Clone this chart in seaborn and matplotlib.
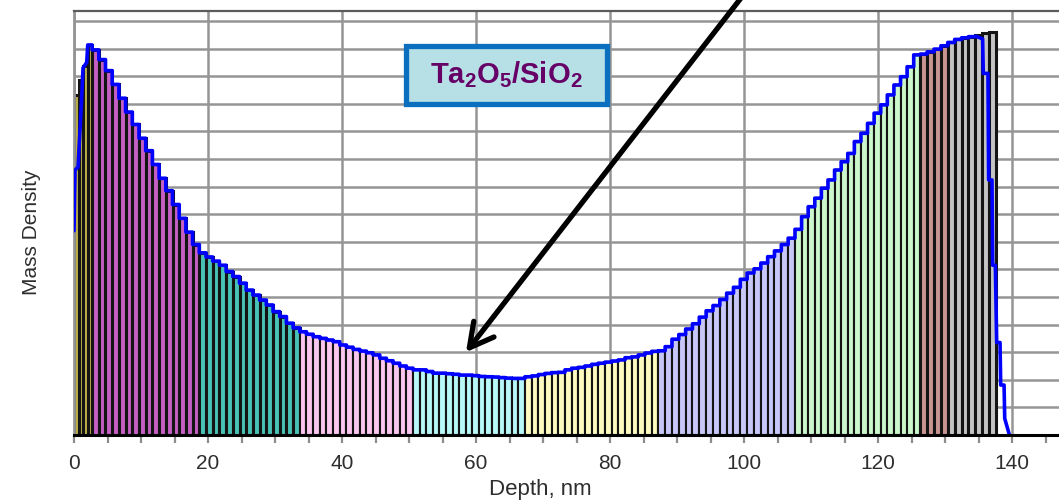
import numpy as np
import pandas as pd
import matplotlib
matplotlib.use("Agg")
import matplotlib.pyplot as plt
from matplotlib.patches import Rectangle
from matplotlib.ticker import MultipleLocator, NullFormatter, FixedLocator
import seaborn as sns

# ---- layer data: depth span of each coloured block and the mass density of its sublayers ----
block_names = ["olive", "magenta", "teal", "pink", "cyan", "yellow", "lavender", "green", "brown", "gray"]
block_colors = ["#bdb248", "#c65fc4", "#48c2b6", "#fbc6f0", "#b8f8f8",
                "#fdfbc0", "#c8c8f8", "#ccf7cc", "#c99591", "#c4c4c4"]
block_start = [0.0, 2.7, 18.7, 33.7, 50.6, 67.3, 87.2, 107.6, 126.3, 130.4]
block_end = [2.7, 18.7, 33.7, 50.6, 67.3, 87.2, 107.6, 126.3, 130.4, 137.6]

olive = [12.3, 12.85, 13.35, 14.13]
magenta = [13.95, 13.6, 13.2, 12.7, 12.2, 11.7, 11.25, 10.75, 10.3, 9.8, 9.3, 8.85, 8.35, 7.85, 7.35, 6.9]
teal = [6.6, 6.45, 6.3, 6.15, 5.92, 5.74, 5.5, 5.25, 5.07, 4.89, 4.71, 4.47, 4.29, 4.05, 3.88]
pink = [3.74, 3.65, 3.56, 3.50, 3.44, 3.38, 3.26, 3.18, 3.10, 3.04, 2.98, 2.90, 2.78, 2.69, 2.60, 2.50, 2.42]
cyan = [2.36, 2.36, 2.30, 2.24, 2.24, 2.22, 2.20, 2.17, 2.17, 2.15, 2.12, 2.11, 2.10, 2.08, 2.06, 2.05, 2.05]
yellow = [2.11, 2.14, 2.19, 2.23, 2.26, 2.27, 2.36, 2.42, 2.45, 2.50, 2.56, 2.60, 2.64, 2.68, 2.72, 2.80, 2.83, 2.90, 2.97, 3.03]
lavender = [3.05, 3.2, 3.47, 3.64, 3.84, 4.03, 4.27, 4.5, 4.69, 4.91, 5.14, 5.35, 5.64, 5.87, 6.02, 6.23, 6.46, 6.67, 6.9, 7.13]
green = [7.45, 7.91, 8.27, 8.58, 8.94, 9.24, 9.6, 9.9, 10.2, 10.63, 10.93, 11.29, 11.66, 11.96, 12.32, 12.68, 12.98, 13.34, 13.77]
brown = [13.8, 13.88, 13.98, 14.1]
gray = [14.22, 14.33, 14.39, 14.43, 14.5, 14.56, 14.6]
block_values = [olive, magenta, teal, pink, cyan, yellow, lavender, green, brown, gray]
dark_blocks = {"olive", "magenta", "teal", "brown", "gray"}

# target profile at the two film edges (the middle follows the sublayer tops)
front_depth = [0.0, 0.15, 0.6, 1.1, 1.35, 1.9, 2.05, 2.7]
front_density = [7.4, 9.6, 9.7, 12.0, 13.3, 13.5, 14.13, 14.13]
back_depth = [134.55, 135.6, 135.7, 136.4, 136.5, 137.0, 137.1, 137.5, 137.7, 138.2, 138.3, 138.8, 138.9, 139.6]
back_density = [14.45, 14.35, 13.1, 13.1, 9.24, 9.24, 6.15, 6.15, 3.35, 3.35, 1.81, 1.81, 0.6, 0.0]

depth_ticks = [0, 20, 40, 60, 80, 100, 120, 140]
tick_labels = ["0", "20", "40", "60", "80", "100", "120", "140"]

# ---- styling ----
sns.set_theme(style="white")
plt.rcParams["font.family"] = ["Liberation Sans", "DejaVu Sans"]
plt.rcParams["mathtext.fontset"] = "custom"
plt.rcParams["mathtext.bf"] = "Liberation Sans:bold"
plt.rcParams["mathtext.rm"] = "Liberation Sans:bold"

fig = plt.figure(figsize=(10.59, 5.0), dpi=100)
ax = fig.add_axes([74 / 1059, 65 / 500, 985 / 1059, 424 / 500])

edge_col = "#141414"
bx, by = list(front_depth), list(front_density)
for name, col, s, e, vals in zip(block_names, block_colors, block_start, block_end, block_values):
    edges = np.linspace(s, e, len(vals) + 1)
    centers = 0.5 * (edges[:-1] + edges[1:])
    layer = pd.DataFrame({"depth": centers, "density": vals})
    sns.barplot(data=layer, x="depth", y="density", native_scale=True, width=1.0,
                color=col, saturation=1.0, errorbar=None, edgecolor=edge_col,
                linewidth=2.2 if name in dark_blocks else 1.5, ax=ax, zorder=2)
    if name == "olive":
        continue
    for l, r, v in zip(edges[:-1], edges[1:], vals):
        if r <= back_depth[0] + 1e-6:
            bx += [l, r]
            by += [v, v]
bx += back_depth
by += back_density

profile = pd.DataFrame({"depth": bx, "density": by})
sns.lineplot(data=profile, x="depth", y="density", sort=False, estimator=None,
             color="#0000ff", linewidth=2.6, ax=ax, zorder=4)

ax.set_xlim(0, 147)
ax.set_ylim(0, 15.36)
ax.xaxis.set_major_locator(FixedLocator(depth_ticks))
ax.set_xticklabels(tick_labels)
ax.xaxis.set_minor_locator(MultipleLocator(5))
ax.yaxis.set_major_locator(FixedLocator(list(range(0, 16))))
ax.yaxis.set_major_formatter(NullFormatter())
ax.tick_params(axis="x", which="both", direction="out", length=6, width=1.6,
               color="#8c8c8c", labelsize=15, labelcolor="#2e2e2e", pad=8, bottom=True)
ax.tick_params(axis="y", which="both", length=0)

ax.set_axisbelow(True)
ax.grid(True, which="major", axis="both", color="#959595", linewidth=1.8)

ax.spines["right"].set_visible(False)
ax.spines["top"].set_color("#5c5c5c")
ax.spines["top"].set_linewidth(1.6)
ax.spines["left"].set_color("#959595")
ax.spines["left"].set_linewidth(2.0)
ax.spines["bottom"].set_color("#000000")
ax.spines["bottom"].set_linewidth(2.2)
ax.spines["bottom"].set_zorder(5)

ax.set_xlabel("Depth, nm", fontsize=16, color="#2e2e2e")
ax.set_ylabel("Mass Density", fontsize=15, color="#2e2e2e")
ax.xaxis.set_label_coords(0.473, -0.104)
ax.yaxis.set_label_coords(-0.033, 0.479)

# pointer to the low-index minimum
ax.annotate("", xy=(58.5, 3.0), xytext=(100.4, 16.1), xycoords="data", textcoords="data",
            annotation_clip=False,
            arrowprops=dict(arrowstyle="->,head_length=0.85,head_width=0.46", color="black",
                            lw=3.8, shrinkA=0, shrinkB=0, mutation_scale=20),
            zorder=6)

# material label box
ax.add_patch(Rectangle((0.337, 0.780), 0.204, 0.138, transform=ax.transAxes,
                       facecolor="#b7dfe6", edgecolor="#0a6fbf", linewidth=3.8, zorder=7))
ax.text(0.4386, 0.849, r"$\mathbf{Ta_2O_5/SiO_2}$", transform=ax.transAxes,
        ha="center", va="center", fontsize=21, color="#660066", zorder=8)

fig.savefig("out.png", dpi=100)
